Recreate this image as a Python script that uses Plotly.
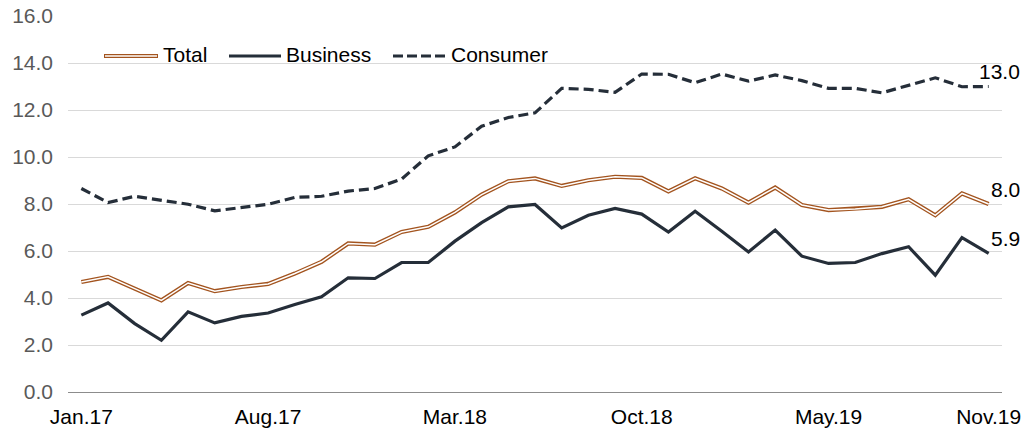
import plotly.graph_objects as go

months = ["Jan.17","Feb.17","Mar.17","Apr.17","May.17","Jun.17","Jul.17","Aug.17","Sep.17","Oct.17","Nov.17","Dec.17",
          "Jan.18","Feb.18","Mar.18","Apr.18","May.18","Jun.18","Jul.18","Aug.18","Sep.18","Oct.18","Nov.18","Dec.18",
          "Jan.19","Feb.19","Mar.19","Apr.19","May.19","Jun.19","Jul.19","Aug.19","Sep.19","Oct.19","Nov.19"]

total = [4.68, 4.90, 4.40, 3.90, 4.64, 4.29, 4.47, 4.60, 5.04, 5.54, 6.32, 6.27,
         6.81, 7.03, 7.64, 8.40, 8.97, 9.09, 8.77, 9.01, 9.16, 9.11, 8.54, 9.09,
         8.66, 8.06, 8.70, 7.96, 7.74, 7.79, 7.88, 8.20, 7.52, 8.45, 8.00]

business = [3.27, 3.79, 2.91, 2.20, 3.41, 2.94, 3.22, 3.36, 3.72, 4.05, 4.86, 4.83,
            5.51, 5.51, 6.42, 7.21, 7.88, 7.98, 6.98, 7.52, 7.81, 7.57, 6.81, 7.69,
            6.84, 5.96, 6.89, 5.78, 5.47, 5.51, 5.89, 6.18, 4.97, 6.57, 5.90]

consumer = [8.66, 8.06, 8.33, 8.16, 7.99, 7.71, 7.85, 7.99, 8.28, 8.33, 8.55, 8.66,
            9.06, 10.05, 10.43, 11.31, 11.68, 11.88, 12.92, 12.88, 12.75, 13.53, 13.52, 13.16,
            13.53, 13.23, 13.49, 13.25, 12.92, 12.92, 12.73, 13.06, 13.37, 12.99, 13.00]

tick_labels = ["Jan.17", "Aug.17", "Mar.18", "Oct.18", "May.19", "Nov.19"]
tick_idx = [0, 7, 14, 21, 28, 34]

x = list(range(len(months)))

BROWN = "#A3541F"
NAVY = "#252E39"
FONT = "Liberation Sans, Arial, sans-serif"

fig = go.Figure()
fig.add_trace(go.Scatter(x=x, y=consumer, mode="lines", name="Consumer",
                         line=dict(color=NAVY, width=3.2, dash="10px,5px"), showlegend=False))
fig.add_trace(go.Scatter(x=x, y=business, mode="lines", name="Business",
                         line=dict(color=NAVY, width=3.2), showlegend=False))
fig.add_trace(go.Scatter(x=x, y=total, mode="lines", name="Total",
                         line=dict(color=BROWN, width=4.2), showlegend=False))
fig.add_trace(go.Scatter(x=x, y=total, mode="lines", name="Total (inner)",
                         line=dict(color="white", width=1.5), showlegend=False, hoverinfo="skip"))

# end-value labels
for series in (consumer, total, business):
    fig.add_annotation(x=x[-1], y=series[-1], text=f"{series[-1]:.1f}", showarrow=False,
                       xanchor="right", yanchor="middle", xshift=33, yshift=15,
                       font=dict(family=FONT, size=21, color="#000000"))

# custom legend (paper coordinates)
L, R, T, B = 68, 1002, 16, 392
def px(xp):
    return (xp - L) / (R - L)
def py(yp):
    return (B - yp) / (B - T)

ly = py(56)
legend_items = [("Total", 104, 158, 163), ("Business", 229, 281, 286), ("Consumer", 393, 446, 451)]
for name, x0, x1, tx in legend_items:
    if name == "Total":
        fig.add_shape(type="line", xref="paper", yref="paper", x0=px(x0), x1=px(x1), y0=ly, y1=ly,
                      line=dict(color=BROWN, width=4.2))
        fig.add_shape(type="line", xref="paper", yref="paper", x0=px(x0 + 1), x1=px(x1 - 1), y0=ly, y1=ly,
                      line=dict(color="white", width=1.5))
    elif name == "Business":
        fig.add_shape(type="line", xref="paper", yref="paper", x0=px(x0), x1=px(x1), y0=ly, y1=ly,
                      line=dict(color=NAVY, width=3.2))
    else:
        fig.add_shape(type="line", xref="paper", yref="paper", x0=px(x0), x1=px(x1), y0=ly, y1=ly,
                      line=dict(color=NAVY, width=3.2, dash="10px,4px"))
    fig.add_annotation(xref="paper", yref="paper", x=px(tx), y=py(55), text=name, showarrow=False,
                       xanchor="left", yanchor="middle", xshift=-2,
                       font=dict(family=FONT, size=21, color="#000000"))

fig.update_layout(
    width=1023, height=431,
    margin=dict(l=L, r=1023 - R, t=T, b=431 - B, autoexpand=False),
    paper_bgcolor="white", plot_bgcolor="white",
    showlegend=False,
    font=dict(family=FONT, size=21),
)
fig.update_xaxes(range=[-0.5, len(months) - 0.5], tickmode="array", tickvals=tick_idx, ticktext=tick_labels,
                 showgrid=False, showline=True, linecolor="#8C8C8C", linewidth=1.3, zeroline=False,
                 automargin=False,
                 ticks="", tickfont=dict(family=FONT, size=21, color="#000000"), ticklabelstandoff=6)
fig.update_yaxes(range=[0, 16], tickmode="array", tickvals=[0, 2, 4, 6, 8, 10, 12, 14, 16],
                 ticktext=[f"{v:.1f}" for v in [0, 2, 4, 6, 8, 10, 12, 14, 16]],
                 showgrid=True, gridcolor="#D9D9D9", gridwidth=1.3, zeroline=False, showline=False,
                 automargin=False,
                 ticks="", tickfont=dict(family=FONT, size=21, color="#595959"), ticklabelstandoff=14)

fig.write_html("out.html")
